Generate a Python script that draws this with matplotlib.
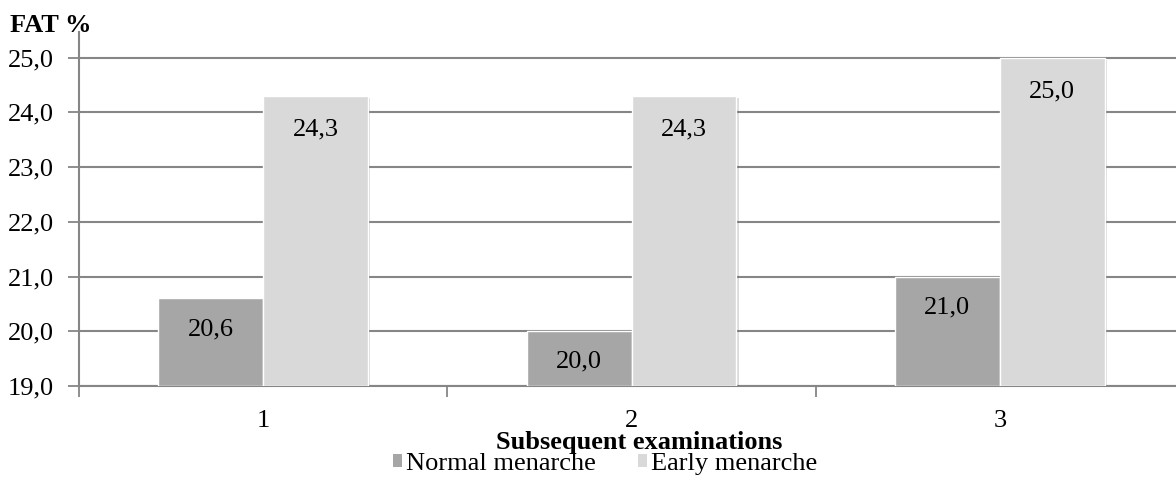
import matplotlib
matplotlib.use("Agg")
import matplotlib.pyplot as plt
from matplotlib.patches import Patch
import matplotlib.patheffects as pe

categories = ["1", "2", "3"]
normal = [20.6, 20.0, 21.0]
early = [24.3, 24.3, 25.0]
yticks = [19.0, 20.0, 21.0, 22.0, 23.0, 24.0, 25.0]

plt.rcParams['font.family'] = ['Liberation Serif', 'DejaVu Serif']

fig = plt.figure(figsize=(11.76, 4.78), dpi=100)
W, H = 1176, 478
left, right, top, bottom = 79, 1184, 32, 386
ax = fig.add_axes([left / W, (H - bottom) / H, (right - left) / W, (bottom - top) / H])

x = list(range(1, len(categories) + 1))
bw = 0.285
c_norm = "#A6A6A6"
c_early = "#D9D9D9"
grid_c = "#868686"
fs = 19

shadow = [pe.SimplePatchShadow(offset=(1.5, -1.5), alpha=0.18), pe.Normal()]

ymin = yticks[0]
b1 = ax.bar([xi - bw / 2 for xi in x], [v - ymin for v in normal], bw, bottom=ymin,
            color=c_norm, edgecolor="white", linewidth=1.0, zorder=3)
b2 = ax.bar([xi + bw / 2 for xi in x], [v - ymin for v in early], bw, bottom=ymin,
            color=c_early, edgecolor="white", linewidth=1.0, zorder=3)
for p in list(b1) + list(b2):
    p.set_path_effects(shadow)

for xi, v in zip(x, normal):
    ax.annotate(f"{v:.1f}".replace(".", ","), (xi - bw / 2, v), xytext=(0, -22),
                textcoords="offset points", ha="center", va="center", fontsize=fs, zorder=4)
for xi, v in zip(x, early):
    ax.annotate(f"{v:.1f}".replace(".", ","), (xi + bw / 2, v), xytext=(0, -24),
                textcoords="offset points", ha="center", va="center", fontsize=fs, zorder=4)

ax.set_xlim(0.5, len(categories) + 0.5)
ax.set_ylim(ymin, 25.47)
ax.set_yticks(yticks)
ax.set_yticklabels([f"{t:.1f}".replace(".", ",") for t in yticks], fontsize=fs)
ax.yaxis.grid(True, color=grid_c, linewidth=1.5, zorder=0)
ax.set_axisbelow(True)

ax.set_xticks([i + 0.5 for i in range(0, len(categories) + 1)])
ax.set_xticklabels([])
ax.set_xticks(x, minor=True)
ax.set_xticklabels(categories, minor=True, fontsize=fs)
ax.tick_params(axis="x", which="minor", length=0, pad=17)
ax.tick_params(axis="x", which="major", length=8, width=1.3, color=grid_c, direction="out")
ax.tick_params(axis="y", length=8, width=1.3, color=grid_c, direction="out", pad=10)

for s in ["top", "right"]:
    ax.spines[s].set_visible(False)
for s in ["left", "bottom"]:
    ax.spines[s].set_color(grid_c)
    ax.spines[s].set_linewidth(1.5)

fig.text(10 / W, 1 - 25 / H, "FAT %", fontsize=fs, fontweight="bold", va="center", ha="left")
fig.text(639 / W, 1 - 442 / H, "Subsequent examinations", fontsize=fs, fontweight="bold",
         va="center", ha="center")

handles = [Patch(facecolor=c_norm, edgecolor="none"), Patch(facecolor=c_early, edgecolor="none")]
fig.legend(handles, ["Normal menarche", "Early menarche"], loc="center",
           bbox_to_anchor=(605 / W, 1 - 464 / H), ncol=2, frameon=False, fontsize=fs,
           handlelength=0.35, handleheight=0.35, handletextpad=0.15, columnspacing=1.6,
           borderpad=0, borderaxespad=0)

fig.savefig("out.png", dpi=100)
